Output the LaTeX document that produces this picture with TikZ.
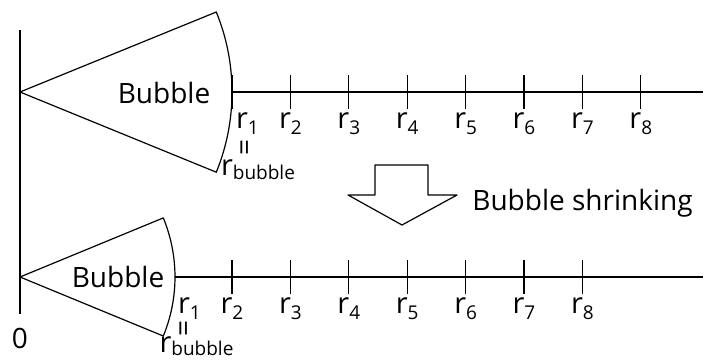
\documentclass[tikz,border=0pt]{standalone}
\usepackage{fontspec}
\setmainfont{Open Sans}
\usetikzlibrary{calc}
\newcommand{\rsub}[2][-6pt]{r\raisebox{#1}{\fontsize{19}{19}\selectfont #2}}

\begin{document}
\begin{tikzpicture}[x=1pt,y=-1pt,
    axis/.style={line width=1.2pt,line join=round},
    tick/.style={line width=1.2pt},
    txt/.style={font=\fontsize{28}{28}\selectfont,anchor=base,inner sep=0pt},
    rtxt/.style={font=\fontsize{29}{29}\selectfont,anchor=base,inner sep=0pt},
    eqsign/.style={font=\fontsize{28}{28}\selectfont,rotate=90,inner sep=0pt},
  ]
  \useasboundingbox (0,0) rectangle (705,360);
  \def\dr{58.4}
  \def\xend{703}
  % vertical axis
  \coordinate (vtop) at (20,30);
  \coordinate (vbot) at (20,314);
  \draw[axis] (vtop) -- (vbot);
  \node[txt] (zero) at (20,348) {0};
  % before: large bubble
  \coordinate (o1) at (20,92);
  \coordinate (a1) at (216.3,12);
  \coordinate (e1) at (232,92);
  \coordinate (t1) at (\xend,92);
  \draw[axis] (o1) -- (a1) arc[start angle=22.2,end angle=-22.2,radius=212pt] -- cycle;
  \draw[axis] (e1) -- (t1);
  \node[txt] (bub1) at (164,103) {Bubble};
  \foreach \k in {1,...,8}{
    \pgfmathsetmacro{\tx}{232+(\k-1)*\dr}
    \coordinate (u\k) at (\tx,92);
    \draw[tick] ($(u\k)+(0,-17)$) -- ($(u\k)+(0,17)$);
  }
  \foreach \k in {2,...,8}{
    \node[rtxt] (ru\k) at ($(u\k)+(0,36)$) {\rsub{\k}};
  }
  \node[rtxt] (ru1) at (247.5,128) {\rsub{1}};
  \node[eqsign] (equ) at (248,147) {=};
  \node[rtxt] (rbu) at (258,175) {\rsub[-4pt]{bubble}};
  % shrinking arrow
  \draw[axis] (375,165) -- (428,165) -- (428,195) -- (457,195) -- (402,225)
    -- (348,195) -- (375,195) -- cycle;
  \node[txt] (shrink) at (582.5,210) {Bubble shrinking};
  % after: small bubble
  \coordinate (o2) at (20,277);
  \coordinate (a2) at (163.3,217.9);
  \coordinate (e2) at (175,277);
  \coordinate (t2) at (\xend,277);
  \draw[axis] (o2) -- (a2) arc[start angle=22.4,end angle=-22.4,radius=155pt] -- cycle;
  \draw[axis] (e2) -- (t2);
  \node[txt] (bub2) at (118,287) {Bubble};
  \foreach \k in {2,...,8}{
    \pgfmathsetmacro{\tx}{232+(\k-2)*\dr}
    \coordinate (d\k) at (\tx,277);
    \draw[tick] ($(d\k)+(0,-17)$) -- ($(d\k)+(0,17)$);
    \node[rtxt] (rd\k) at ($(d\k)+(0,36)$) {\rsub{\k}};
  }
  \node[rtxt] (rd1) at (189.5,313) {\rsub{1}};
  \node[eqsign] (eqd) at (187,328) {=};
  \node[rtxt] (rbd) at (196.5,352) {\rsub[-3pt]{bubble}};
\end{tikzpicture}
\end{document}
